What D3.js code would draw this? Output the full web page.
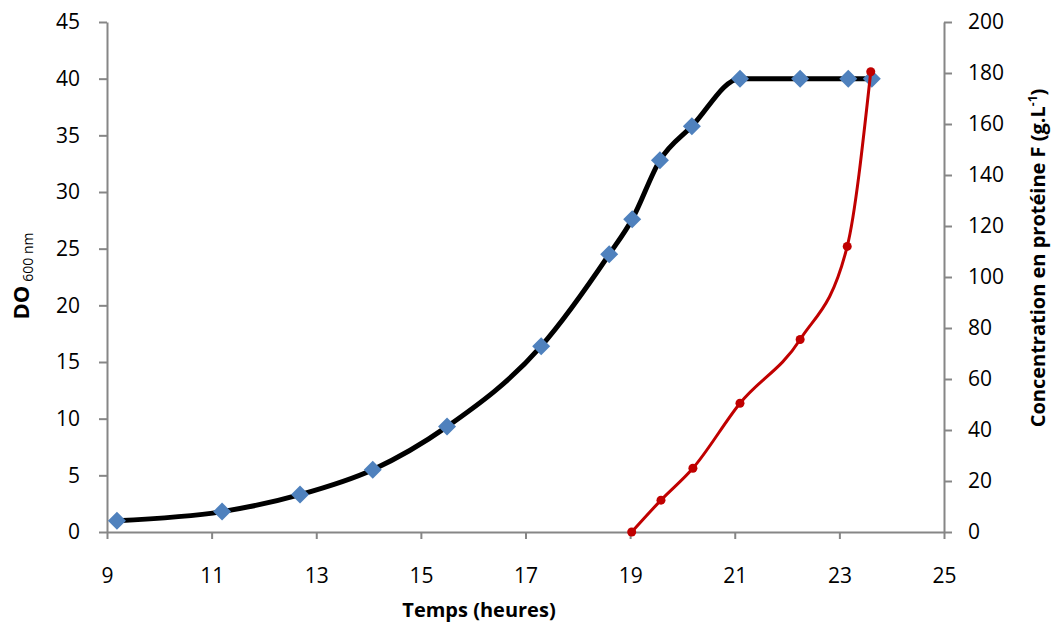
<!DOCTYPE html>
<html>
<head>
<meta charset="utf-8">
<script src="https://d3js.org/d3.v7.min.js"></script>
<style>
body { margin: 0; background: #fff; }
svg text { font-family: "Open Sans", sans-serif; fill: #000; }
</style>
</head>
<body>
<svg id="chart" width="1061" height="628"></svg>
<script>

// Temps (heures) / DO 600 nm
var timeDO = [9.19, 11.2, 12.69, 14.08, 15.5, 17.3, 18.6, 19.04, 19.57, 20.18, 21.1, 22.25, 23.17, 23.62]
var valDO  = [1.0, 1.8, 3.3, 5.5, 9.3, 16.4, 24.5, 27.6, 32.8, 35.8, 40, 40, 40, 40]

// Temps (heures) / concentration en protéine F
var timeProt = [19.03, 19.59, 20.2, 21.1, 22.25, 23.15, 23.6]
var valProt  = [0, 12.5, 25, 50.5, 75.5, 112, 180.5]

var xTicks = [9, 11, 13, 15, 17, 19, 21, 23, 25]
var yLeftTicks = d3.range(0, 46, 5)
var yRightTicks = d3.range(0, 201, 20)

var svg = d3.select("#chart"),
	margin = {top: 22, left: 107, bottom: 96, right: 117},
	W = +svg.attr("width"), H = +svg.attr("height");

var x = d3.scaleLinear().domain([9, 25]).range([margin.left, W - margin.right])
var yL = d3.scaleLinear().domain([0, 45]).range([H - margin.bottom, margin.top])
var yR = d3.scaleLinear().domain([0, 200]).range([H - margin.bottom, margin.top])

var axisColor = "#868686"

var xAxis = svg.append("g")
	.attr("transform", `translate(0,${H - margin.bottom})`)
	.call(d3.axisBottom(x).tickValues(xTicks).tickSize(7).tickPadding(29).tickSizeOuter(0))

var leftAxis = svg.append("g")
	.attr("transform", `translate(${margin.left},0)`)
	.call(d3.axisLeft(yL).tickValues(yLeftTicks).tickSize(8).tickPadding(19).tickSizeOuter(0))

var rightAxis = svg.append("g")
	.attr("transform", `translate(${W - margin.right},0)`)
	.call(d3.axisRight(yR).tickValues(yRightTicks).tickSize(8).tickPadding(16).tickSizeOuter(0))

svg.selectAll(".domain, .tick line").attr("stroke", axisColor).attr("stroke-width", 2)
svg.selectAll(".tick text").attr("font-size", 21).attr("fill", "#111")

// black line, DO
var ptsDO = timeDO.map((t, i) => [t, valDO[i]])
var lineDO = d3.line()
	.x(d => x(d[0]))
	.y(d => yL(d[1]))
	.curve(d3.curveMonotoneX)

svg.append("path")
	.datum(ptsDO)
	.attr("d", lineDO)
	.attr("fill", "none")
	.attr("stroke", "#000")
	.attr("stroke-width", 5)

svg.selectAll(".diamond")
	.data(ptsDO)
	.enter().append("path")
	.attr("class", "diamond")
	.attr("d", "M0,-9L9,0L0,9L-9,0Z")
	.attr("transform", d => `translate(${x(d[0])},${yL(d[1])})`)
	.attr("fill", "#4F81BD")

// red line, protein
var ptsProt = timeProt.map((t, i) => [t, valProt[i]])
var lineProt = d3.line()
	.x(d => x(d[0]))
	.y(d => yR(d[1]))
	.curve(d3.curveMonotoneX)

svg.append("path")
	.datum(ptsProt)
	.attr("d", lineProt)
	.attr("fill", "none")
	.attr("stroke", "#C00000")
	.attr("stroke-width", 3)

svg.selectAll(".dot")
	.data(ptsProt)
	.enter().append("circle")
	.attr("class", "dot")
	.attr("cx", d => x(d[0]))
	.attr("cy", d => yR(d[1]))
	.attr("r", 4.5)
	.attr("fill", "#C00000")

// axis titles
svg.append("text")
	.attr("x", 479)
	.attr("y", 617)
	.attr("text-anchor", "middle")
	.attr("font-size", 20)
	.attr("font-weight", "bold")
	.text("Temps (heures)")

var tl = svg.append("text")
	.attr("transform", "translate(29,276) rotate(-90)")
	.attr("text-anchor", "middle")
	.attr("font-size", 22)
tl.append("tspan").attr("font-weight", "bold").text("DO")
tl.append("tspan").attr("font-size", 14).attr("dy", 4).attr("dx", 4).text("600 nm")

var tr = svg.append("text")
	.attr("transform", "translate(1045,258) rotate(-90)")
	.attr("text-anchor", "middle")
	.attr("font-size", 20)
	.attr("font-weight", "bold")
tr.append("tspan").text("Concentration en protéine F (g.L")
tr.append("tspan").attr("font-size", 12).attr("dy", -8).text("-1")
tr.append("tspan").attr("dy", 8).text(")")

</script>
</body>
</html>
